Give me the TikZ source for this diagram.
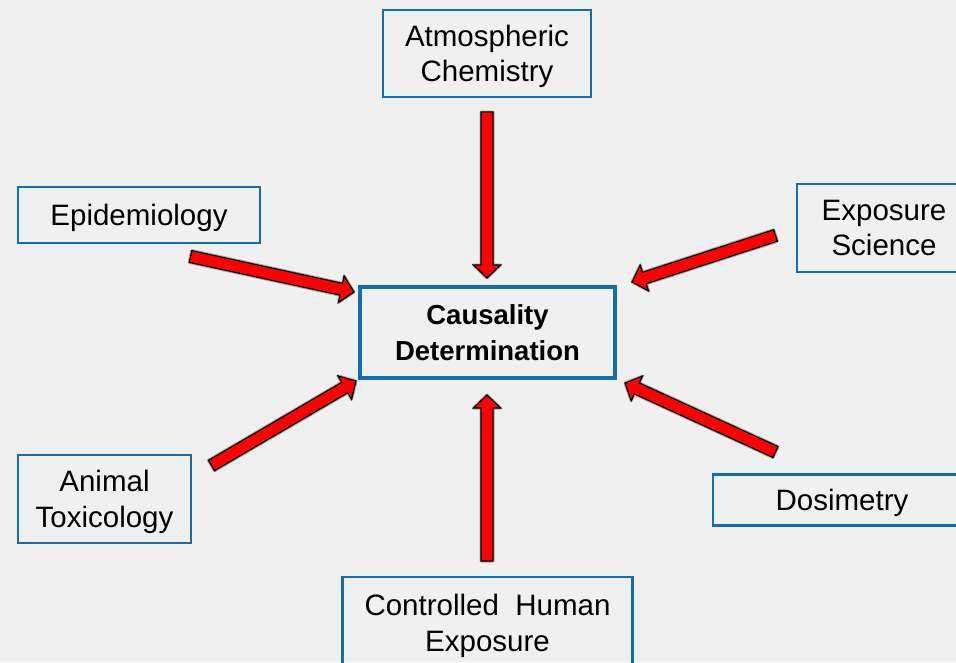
\documentclass[tikz,border=0pt]{standalone}
\usepackage{fontspec}
\setmainfont{Liberation Sans}
\usetikzlibrary{calc}
\definecolor{bg}{RGB}{240,240,240}
\definecolor{boxblue}{RGB}{16,110,180}
\definecolor{arrred}{RGB}{255,0,0}
\tikzset{
  box/.style={draw=boxblue, line width=2.5pt, rectangle, align=center, inner sep=0pt,
    font=\fontsize{29.5}{35.5}\selectfont, text=black, text depth=0pt},
  mainbox/.style={draw=boxblue, rectangle, align=center, inner sep=0pt, text=black,
    line width=4.5pt, font=\fontsize{27.5}{36}\selectfont\bfseries},
  blockarr/.style={draw=black, fill=arrred, line width=1.2pt, line join=miter},
  arrshadow/.style={draw=black!35, line width=3pt, line join=round}
}
% block arrow from coordinate #1 (tail) to coordinate #2 (tip)
\newcommand\blockarrow[2]{%
  \coordinate (#1h) at ($(#2)!13pt!(#1)$);
  \draw[arrshadow] ($(#1)!6pt!90:(#2)$) -- ($(#1h)!6pt!-90:(#1)$) -- ($(#1h)!13.5pt!-90:(#1)$) -- (#2)
      -- ($(#1h)!13.5pt!90:(#1)$) -- ($(#1h)!6pt!90:(#1)$) -- ($(#1)!6pt!-90:(#2)$) -- cycle;
  \draw[blockarr] ($(#1)!6pt!90:(#2)$) -- ($(#1h)!6pt!-90:(#1)$) -- ($(#1h)!13.5pt!-90:(#1)$) -- (#2)
      -- ($(#1h)!13.5pt!90:(#1)$) -- ($(#1h)!6pt!90:(#1)$) -- ($(#1)!6pt!-90:(#2)$) -- cycle;
}
\begin{document}
\begin{tikzpicture}[x=1pt,y=-1pt]
  \fill[bg] (0,0) rectangle (956,662);
  \useasboundingbox (0,0) rectangle (956,662);

  \node[box, minimum width=208pt, minimum height=87pt] (atm) at (487,53.5) {Atmospheric\\Chemistry};
  \node[box, minimum width=242pt, minimum height=56pt] (epi) at (139,215) {Epidemiology};
  \node[box, minimum width=174pt, minimum height=88pt] (exp) at (884,228) {Exposure\\Science};
  \node[mainbox, minimum width=255pt, minimum height=91pt] (cd) at (487.5,332.5) {Causality\\Determination};
  \node[box, minimum width=173pt, minimum height=88pt] (ani) at (104.5,499) {Animal\\Toxicology};
  \node[box, minimum width=258pt, minimum height=51pt] (dos) at (842,500) {Dosimetry};
  \node[box, minimum width=290pt, minimum height=92pt] (chx) at (487.5,623) {Controlled\ \ Human\\Exposure};

  % arrow end points
  \coordinate (atmT) at (487,112);   \coordinate (atmP) at (487,278);
  \coordinate (epiT) at (190.5,256.5); \coordinate (epiP) at (354,292);
  \coordinate (expT) at (775.5,235.5); \coordinate (expP) at (632,282);
  \coordinate (aniT) at (211.5,465.5); \coordinate (aniP) at (356,381);
  \coordinate (dosT) at (775.5,452); \coordinate (dosP) at (625,383);
  \coordinate (chxT) at (487,561);   \coordinate (chxP) at (487,395);

  \blockarrow{atmT}{atmP}
  \blockarrow{epiT}{epiP}
  \blockarrow{expT}{expP}
  \blockarrow{aniT}{aniP}
  \blockarrow{dosT}{dosP}
  \blockarrow{chxT}{chxP}
\end{tikzpicture}
\end{document}
